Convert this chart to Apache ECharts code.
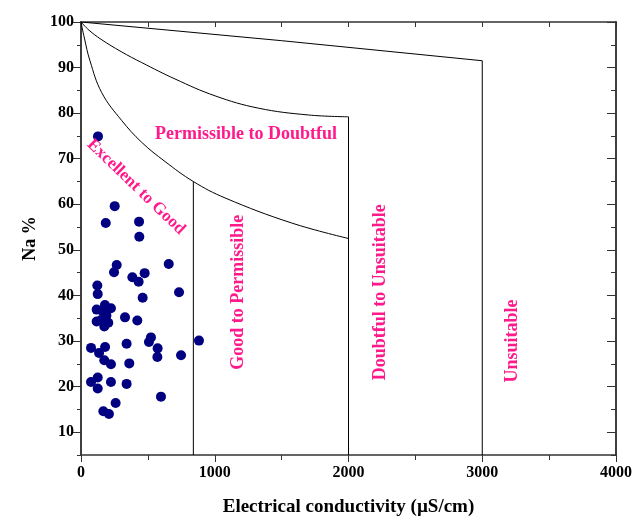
<!DOCTYPE html>
<html>
<head>
<meta charset="utf-8">
<script src="https://cdn.jsdelivr.net/npm/echarts@6/dist/echarts.min.js"></script>
<style>
  html, body { margin: 0; padding: 0; background: #fff; }
  #main { width: 642px; height: 517px; }
</style>
</head>
<body>
<div id="main"></div>
<script>
// 样品点：电导率 (µS/cm) 和 Na %
var ecValues = [127, 252, 185, 434, 436, 267, 247, 656, 476, 384, 431, 122, 125, 733, 461,
  117, 179, 224, 160, 329, 421, 117, 150, 174, 204, 190, 523, 508, 882, 341,
  75, 180, 573, 135, 571, 748, 174, 224, 361, 125, 75, 125, 224, 341, 598, 259, 167, 209];
var naValues = [74.9, 59.6, 55.9, 56.2, 52.9, 46.7, 45.1, 46.9, 44.9, 44.0, 43.0, 42.2, 40.3, 40.7, 39.5,
  36.9, 37.9, 37.2, 36.6, 35.2, 34.5, 34.3, 34.6, 33.2, 34.0, 35.6, 30.8, 29.8, 30.1, 29.4,
  28.5, 28.7, 28.4, 27.4, 26.5, 26.9, 25.8, 24.9, 25.1, 22.0, 21.0, 19.6, 21.0, 20.6, 17.8, 16.4, 14.6, 14.0];

// 分区边界线
var topLineX = [0, 1500, 3000];
var topLineY = [100, 95.9, 91.5];
var midCurveX = [0, 60, 150, 300, 454, 703, 1002, 1326, 1700, 2000];
var midCurveY = [100, 98.2, 96.2, 93.5, 91.1, 87.5, 83.8, 81.1, 79.6, 79.2];
var lowCurveX = [0, 25, 67, 155, 304, 454, 628, 840, 1077, 1575, 2000];
var lowCurveY = [100, 96.5, 91.5, 84.5, 78.4, 73.6, 69.4, 65.0, 61.4, 55.9, 52.5];
var wallX = [840, 2000, 3000];
var wallTop = [65.0, 79.2, 91.5];

// 刻度
var yMajorTicks = [10, 20, 30, 40, 50, 60, 70, 80, 90, 100];
var yMinorTicks = [5, 15, 25, 35, 45, 55, 65, 75, 85, 95];

// 区域文字
var zoneNames = ['Permissible to Doubtful', 'Excellent to Good', 'Good to Permissible', 'Doubtful to Unsuitable', 'Unsuitable'];
var zoneX = [1234, 412, 1174, 2235, 3222];
var zoneY = [75.4, 63.8, 40.7, 40.7, 30.0];
var zoneRotate = [0, -44, 90, 90, 90];
var zoneSize = [18, 17, 18, 18, 18];

var FONT = '"Liberation Serif", "Times New Roman", serif';
var PINK = '#ff1a8c';

function zip(xs, ys) {
  var out = [];
  for (var i = 0; i < xs.length; i++) out.push([xs[i], ys[i]]);
  return out;
}

var lineStyle = { color: '#000', width: 1 };
var series = [
  { type: 'line', data: zip(topLineX, topLineY), showSymbol: false, silent: true, lineStyle: lineStyle },
  { type: 'line', data: zip(midCurveX, midCurveY), smooth: 0.4, showSymbol: false, silent: true, lineStyle: lineStyle },
  { type: 'line', data: zip(lowCurveX, lowCurveY), smooth: 0.4, showSymbol: false, silent: true, lineStyle: lineStyle }
];
for (var i = 0; i < wallX.length; i++) {
  series.push({ type: 'line', data: [[wallX[i], wallTop[i]], [wallX[i], 5]], showSymbol: false, silent: true, lineStyle: lineStyle });
}
series.push({
  type: 'scatter',
  data: zip(ecValues, naValues),
  symbolSize: 10,
  itemStyle: { color: '#000080', opacity: 1 },
  z: 5
});

var axisLine = { show: true, lineStyle: { color: '#333', width: 1.5 } };

var option = {
  animation: false,
  grid: { left: 81, right: 26, top: 22, bottom: 62, containLabel: false, outerBoundsMode: 'none' },
  xAxis: [
    {
      type: 'value', position: 'bottom', min: 0, max: 4000, interval: 1000,
      name: 'Electrical conductivity (µS/cm)', nameLocation: 'middle', nameGap: 43,
      nameTextStyle: { fontFamily: FONT, fontWeight: 'bold', fontSize: 19, color: '#000' },
      axisLine: axisLine,
      axisTick: { show: true, inside: false, length: 7, lineStyle: { color: '#333' } },
      minorTick: { show: true, splitNumber: 2, length: 5, lineStyle: { color: '#333' } },
      axisLabel: { fontFamily: FONT, fontWeight: 'bold', fontSize: 16, color: '#000', margin: 10,
        formatter: function (v) { return String(v); } },
      splitLine: { show: false }
    },
    {
      type: 'value', position: 'top', min: 0, max: 4000, interval: 500,
      axisLine: axisLine,
      axisTick: { show: true, inside: true, length: 5, lineStyle: { color: '#333' } },
      axisLabel: { show: false },
      splitLine: { show: false }
    }
  ],
  yAxis: [
    {
      type: 'value', position: 'left', min: 5, max: 100,
      name: 'Na %', nameLocation: 'middle', nameGap: 42,
      nameTextStyle: { fontFamily: FONT, fontWeight: 'bold', fontSize: 18, color: '#000' },
      axisLine: axisLine,
      axisTick: { show: true, inside: false, length: 8, customValues: yMajorTicks, lineStyle: { color: '#333' } },
      axisLabel: { fontFamily: FONT, fontWeight: 'bold', fontSize: 16, color: '#000', margin: 7, customValues: yMajorTicks },
      splitLine: { show: false }
    },
    {
      type: 'value', position: 'left', min: 5, max: 100,
      axisLine: axisLine,
      axisTick: { show: true, inside: false, length: 4, customValues: yMinorTicks, lineStyle: { color: '#333' } },
      axisLabel: { show: false },
      splitLine: { show: false }
    },
    {
      type: 'value', position: 'right', min: 5, max: 100,
      axisLine: axisLine,
      axisTick: { show: true, inside: true, length: 9, customValues: yMajorTicks, lineStyle: { color: '#333' } },
      axisLabel: { show: false },
      splitLine: { show: false }
    },
    {
      type: 'value', position: 'right', min: 5, max: 100,
      axisLine: axisLine,
      axisTick: { show: true, inside: true, length: 5, customValues: yMinorTicks, lineStyle: { color: '#333' } },
      axisLabel: { show: false },
      splitLine: { show: false }
    }
  ],
  series: series
};

var chart = echarts.init(document.getElementById('main'), null, { renderer: 'canvas' });
chart.setOption(option);

// 区域名称按数据坐标放置
var texts = [];
for (var k = 0; k < zoneNames.length; k++) {
  var p = chart.convertToPixel({ xAxisIndex: 0, yAxisIndex: 0 }, [zoneX[k], zoneY[k]]);
  texts.push({
    type: 'text',
    x: p[0], y: p[1],
    rotation: zoneRotate[k] * Math.PI / 180,
    z: 10,
    style: {
      text: zoneNames[k],
      fill: PINK,
      font: 'bold ' + zoneSize[k] + 'px ' + FONT,
      align: 'center',
      verticalAlign: 'middle'
    }
  });
}
chart.setOption({ graphic: texts });
</script>
</body>
</html>
